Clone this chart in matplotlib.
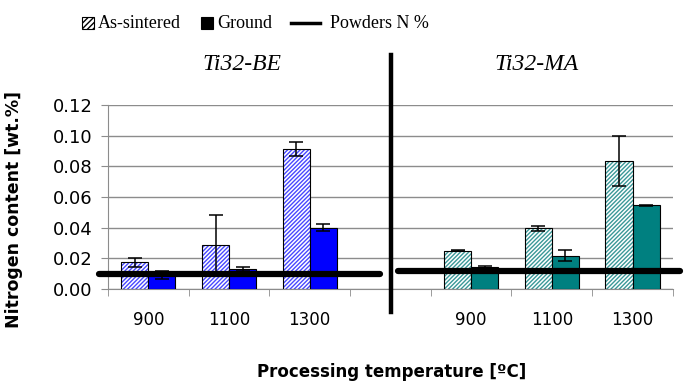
import matplotlib.pyplot as plt
from matplotlib.patches import Rectangle
from matplotlib.lines import Line2D
import numpy as np

temps = ["900", "1100", "1300"]

be_sintered = [0.0175, 0.029, 0.0914]
be_sintered_err = [0.003, 0.019, 0.0045]
be_ground = [0.0092, 0.013, 0.040]
be_ground_err = [0.0025, 0.0013, 0.0023]
be_powder = 0.0098

ma_sintered = [0.025, 0.0397, 0.0835]
ma_sintered_err = [0.0005, 0.0016, 0.016]
ma_ground = [0.0143, 0.0217, 0.0545]
ma_ground_err = [0.0005, 0.0035, 0.0006]
ma_powder = 0.0119

yticks = [0.00, 0.02, 0.04, 0.06, 0.08, 0.10, 0.12]

W, H = 688, 382


def fx(px):
    return px / W


def fy(py):
    return 1 - py / H


fig = plt.figure(figsize=(6.88, 3.82), dpi=100)
ax = fig.add_axes([0.157, 0.2435, 0.821, 0.4815])

w = 0.335
groups = [
    (np.arange(3), be_sintered, be_sintered_err, be_ground, be_ground_err,
     "#0000ff", "#4848ff", be_powder, (-0.61, 2.87)),
    (np.arange(3) + 4, ma_sintered, ma_sintered_err, ma_ground, ma_ground_err,
     "#008080", "#3a9898", ma_powder, (3.09, 6.59)),
]
err_kw = dict(ecolor="black", elinewidth=1.1, capsize=5, capthick=1.1)
for x, s, se, g, ge, solid, hatchc, powder, span in groups:
    # hatched bar: draw hatch first, then black outline on top
    ax.bar(x - w / 2, s, w, color="white", edgecolor=hatchc, hatch="////////",
           linewidth=0, zorder=2)
    ax.bar(x - w / 2, s, w, fill=False, edgecolor="black", linewidth=0.8,
           yerr=se, error_kw=err_kw, zorder=3)
    ax.bar(x + w / 2, g, w, color=solid, edgecolor="black", linewidth=0.8,
           yerr=ge, error_kw=err_kw, zorder=3)
    ax.plot(span, [powder, powder], color="black", lw=4.5,
            solid_capstyle="round", clip_on=False, zorder=5)

ax.set_xlim(-0.5, 6.5)
ax.set_ylim(0, 0.12)
ax.set_yticks(yticks)
ax.set_yticklabels([f"{v:.2f}" for v in yticks], fontsize=13)
ax.yaxis.grid(True, color="#8c8c8c", lw=1.0, zorder=0)
ax.set_axisbelow(True)

ax.set_xticks(range(7))
ax.set_xticklabels(temps + [""] + temps, fontsize=12)
ax.set_xticks(np.arange(-0.5, 7, 1), minor=True)
ax.tick_params(axis="x", which="major", length=0, pad=16)
ax.tick_params(axis="x", which="minor", length=5, color="#8c8c8c", direction="out")
ax.tick_params(axis="y", length=5, color="#8c8c8c", direction="out", pad=6)

for side in ["top", "right"]:
    ax.spines[side].set_visible(False)
for side in ["left", "bottom"]:
    ax.spines[side].set_color("#8c8c8c")

ax.set_ylabel("Nitrogen content [wt.%]", fontsize=12.5, fontweight="bold")
ax.yaxis.set_label_coords(-0.150, 0.43)
fig.text(fx(392), fy(372), "Processing temperature [ºC]", ha="center",
         va="center", fontsize=12, fontweight="bold")

# divider between the two alloys
fig.add_artist(Line2D([fx(391), fx(391)], [fy(55), fy(312)],
                      color="black", lw=3.2))

fig.text(fx(242), fy(65), "Ti32-BE", ha="center", va="center",
         fontsize=17, style="italic", family="Liberation Serif")
fig.text(fx(537), fy(65), "Ti32-MA", ha="center", va="center",
         fontsize=17, style="italic", family="Liberation Serif")

# legend, laid out by hand
leg_font = dict(family="Liberation Serif", size=13, va="center")
fig.add_artist(Rectangle((fx(82), fy(29)), fx(12), 12 / H, facecolor="white",
                         edgecolor="black", hatch="//////", lw=0.8))
fig.text(fx(98), fy(23), "As-sintered", **leg_font)
fig.add_artist(Rectangle((fx(201), fy(29)), fx(12), 12 / H, facecolor="black",
                         edgecolor="black", lw=0.8))
fig.text(fx(217), fy(23), "Ground", **leg_font)
fig.add_artist(Line2D([fx(291), fx(320)], [fy(23), fy(23)], color="black", lw=2.5))
fig.text(fx(330), fy(23), "Powders N %", **leg_font)

fig.savefig("out.png", dpi=100)
